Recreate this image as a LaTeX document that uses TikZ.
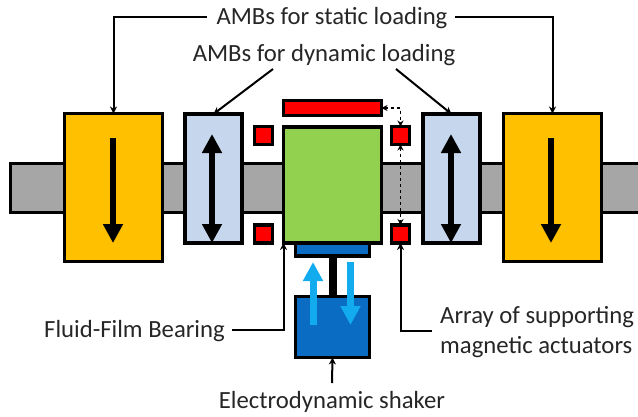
\documentclass[tikz,border=0pt]{standalone}
\usepackage{fontspec}
\setmainfont{Carlito}
\usetikzlibrary{arrows.meta}
\definecolor{ambyellow}{HTML}{FFC000}
\definecolor{ambblue}{HTML}{C6D6EC}
\definecolor{rotorgreen}{HTML}{92D050}
\definecolor{shaftgray}{HTML}{A6A6A6}
\definecolor{shakerblue}{HTML}{0A6CC2}
\definecolor{motionblue}{HTML}{12ACEE}
\tikzset{
	part/.style={draw=black, line width=3.4pt, inner sep=0pt, outer sep=0pt},
	label/.style={font=\fontsize{24.7}{28}\selectfont, inner sep=0pt, text=black!85},
	lead/.style={draw=black, line width=2pt, -{Stealth[length=7pt,width=7pt]}},
	loadarrow/.style={line width=5.5pt, -{Triangle[length=19pt,width=19pt]}},
	motion/.style={draw=motionblue, line width=7pt, -{Triangle[length=19pt,width=19pt]}},
	gap/.style={dashed, line width=1.2pt, {Stealth[length=6pt,width=6pt]}-{Stealth[length=6pt,width=6pt]}},
}
\newcommand{\partbox}[6]{\node[part, fill=#1, minimum width=#2pt, minimum height=#3pt] (#4) at (#5,#6) {};}
\begin{document}
\begin{tikzpicture}[x=1pt,y=-1pt]
\useasboundingbox (0,0) rectangle (638,416);
% shaft
\draw[line width=3pt, fill=shaftgray] (638,163)--(10,163)--(10,212)--(638,212);
% magnetic bearings
\partbox{ambyellow}{98}{148}{statl}{113.5}{187.5}
\partbox{ambyellow}{98}{148}{statr}{552.5}{187.5}
\partbox{ambblue}{57}{129}{dynl}{213.5}{178.5}
\partbox{ambblue}{57}{129}{dynr}{451.5}{178.5}
% rotor and actuators
\partbox{red}{98}{15}{toppad}{332.5}{108}
\partbox{rotorgreen}{98}{116}{rotor}{332.5}{185}
\partbox{red}{18}{18}{actul}{263.5}{135.5}
\partbox{red}{18}{18}{actur}{400.5}{135.5}
\partbox{red}{18}{18}{actll}{263.5}{234}
\partbox{red}{18}{18}{actlr}{400.5}{234}
% shaker
\partbox{shakerblue}{74}{13}{table}{332.5}{249.5}
\partbox{shakerblue}{74}{61}{shaker}{332.5}{327}
\draw[line width=8pt] (table.south)--(shaker.north);
\coordinate (upa) at (313,325);
\coordinate (upb) at (313,262);
\coordinate (downa) at (350.5,262);
\coordinate (downb) at (350.5,325);
\draw[motion] (upa)--(upb);
\draw[motion] (downa)--(downb);
% load directions
\coordinate (statla) at (113,138);
\coordinate (statlb) at (113,243);
\coordinate (statra) at (551,138);
\coordinate (statrb) at (551,243);
\coordinate (dynla) at (212,134);
\coordinate (dynlb) at (212,243);
\coordinate (dynra) at (451,134);
\coordinate (dynrb) at (451,243);
\draw[loadarrow] (statla)--(statlb);
\draw[loadarrow] (statra)--(statrb);
\draw[loadarrow, {Triangle[length=19pt,width=19pt]}-{Triangle[length=19pt,width=19pt]}] (dynla)--(dynlb);
\draw[loadarrow, {Triangle[length=19pt,width=19pt]}-{Triangle[length=19pt,width=19pt]}] (dynra)--(dynrb);
% labels
\node[label] (statlabel) at (332,18) {AMBs for static loading};
\node[label] (dynlabel) at (324,55) {AMBs for dynamic loading};
\node[label, anchor=west] (fluidlabel) at (44,331) {Fluid-Film Bearing};
\node[label, anchor=west] (arraylabel) at (440,317) {Array of supporting};
\node[label, anchor=west] (maglabel) at (440,347) {magnetic actuators};
\node[label] (shakerlabel) at (332,402) {Electrodynamic shaker};
% leaders
\coordinate (statlend) at (207,17);
\coordinate (statrend) at (455,17);
\coordinate (dynlend) at (273,69);
\coordinate (dynrend) at (396,69);
\coordinate (fluidend) at (232,330);
\coordinate (arrayend) at (432,331);
\coordinate (shakerend) at (332,383);
\draw[lead] (statlend)-|(statl.north);
\draw[lead] (statrend)-|(statr.north);
\draw[lead] (dynlend)--(dynl.north);
\draw[lead] (dynrend)--(dynr.north);
\draw[lead] (fluidend)-|(rotor.south west);
\draw[lead] (arrayend)-|(actlr.south);
\draw[lead] (shakerend)--(shaker.south);
% dashed gaps
\draw[gap] (toppad.east)-|(actur.north);
\draw[gap] (actur.south)--(actlr.north);
\end{tikzpicture}
\end{document}
